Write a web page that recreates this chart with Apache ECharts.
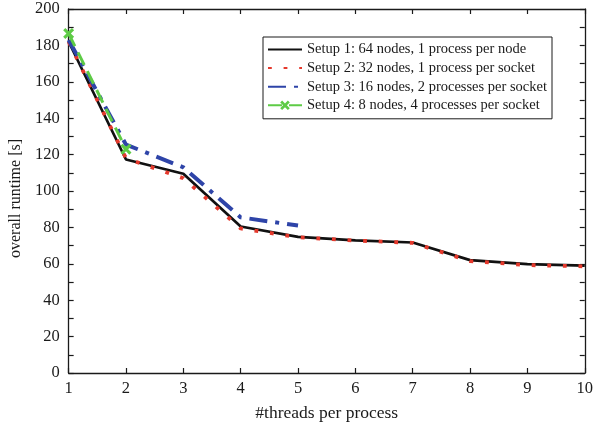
<!DOCTYPE html>
<html>
<head>
<meta charset="utf-8">
<script src="https://cdn.jsdelivr.net/npm/echarts@6/dist/echarts.min.js"></script>
<style>
  html, body { margin: 0; padding: 0; background: #fff; }
  #chart { width: 596px; height: 427px; }
</style>
</head>
<body>
<div id="chart"></div>
<script>
// Runtime per thread count for the four node/process configurations
const threads = [1, 2, 3, 4, 5, 6, 7, 8, 9, 10];
const setup1 = [182, 117.3, 109.5, 80.5, 74.8, 72.9, 71.7, 62, 59.8, 59];
const setup2 = [182, 118, 107, 79.4, 74.6, 72.8, 71.5, 61.5, 59.3, 58.6];
const setup3 = [183, 125.5, 113, 85.5, 81];
const setup4 = [186.5, 123];
const seriesNames = [
  'Setup 1: 64 nodes, 1 process per node',
  'Setup 2: 32 nodes, 1 process per socket',
  'Setup 3: 16 nodes, 2 processes per socket',
  'Setup 4: 8 nodes, 4 processes per socket'
];

const pairs = (vals) => vals.map((v, i) => [threads[i], v]);
const FONT = '"Liberation Serif", "DejaVu Serif", serif';
const INK = '#1a1a1a';
const crossSymbol = 'path://M0,2L2,0L5,3L8,0L10,2L7,5L10,8L8,10L5,7L2,10L0,8L3,5Z';

const frameAxis = (extra) => Object.assign({
  type: 'value',
  axisLine: { show: true, onZero: false, lineStyle: { color: INK, width: 1.3 } },
  axisTick: { show: true, inside: true, length: 5, lineStyle: { color: INK, width: 1.2 } },
  splitLine: { show: false },
  axisLabel: { show: false }
}, extra);

// legend entries: plain lines get no marker, setup 4 keeps its cross
const legendData = seriesNames.map((name, i) =>
  i < 3 ? { name, itemStyle: { opacity: 0 } } : { name });

const chart = echarts.init(document.getElementById('chart'), null, { renderer: 'canvas' });
chart.setOption({
  animation: false,
  backgroundColor: '#fff',
  textStyle: { fontFamily: FONT },
  grid: { left: 65, right: 9, top: 9, bottom: 53, containLabel: false },
  legend: {
    orient: 'vertical',
    left: 263,
    top: 37,
    padding: [5, 5, 6, 4],
    itemWidth: 34,
    itemHeight: 12,
    itemGap: 3.6,
    borderColor: INK,
    borderWidth: 1,
    borderRadius: 0,
    backgroundColor: '#fff',
    textStyle: { fontFamily: FONT, fontSize: 14.5, color: INK },
    data: legendData
  },
  xAxis: [
    frameAxis({
      min: 1, max: 10, interval: 1,
      name: '#threads per process',
      nameLocation: 'middle',
      nameGap: 31,
      nameTextStyle: { fontFamily: FONT, fontSize: 17.5, color: INK },
      axisLabel: { show: true, fontFamily: FONT, fontSize: 16.5, color: INK, margin: 7 }
    }),
    frameAxis({ min: 1, max: 10, interval: 1, position: 'top' })
  ],
  yAxis: [
    frameAxis({
      min: 0, max: 200, interval: 20,
      name: 'overall runtime [s]',
      nameLocation: 'middle',
      nameGap: 34,
      nameTextStyle: { fontFamily: FONT, fontSize: 16, color: INK, padding: [0, 15, 0, 0] },
      minorTick: { show: true, splitNumber: 2, length: 5, lineStyle: { color: INK, width: 1.2 } },
      axisLabel: { show: true, fontFamily: FONT, fontSize: 16.5, color: INK, margin: 9 }
    }),
    frameAxis({
      min: 0, max: 200, interval: 20, position: 'right',
      minorTick: { show: true, splitNumber: 2, length: 5, lineStyle: { color: INK, width: 1.2 } }
    })
  ],
  series: [
    {
      name: seriesNames[0], type: 'line', data: pairs(setup1),
      symbol: 'none', color: '#111',
      lineStyle: { color: '#111', width: 2.7 }
    },
    {
      name: seriesNames[1], type: 'line', data: pairs(setup2),
      symbol: 'none', color: '#e5392c',
      lineStyle: { color: '#e5392c', width: 3.8, type: [3.8, 11.8], cap: 'butt' }
    },
    {
      name: seriesNames[2], type: 'line', data: pairs(setup3),
      symbol: 'none', color: '#2e44a8',
      lineStyle: { color: '#2e44a8', width: 4, type: [18, 8, 4, 8], cap: 'butt' }
    },
    {
      name: seriesNames[3], type: 'line', data: pairs(setup4),
      symbol: crossSymbol, symbolSize: 11, showSymbol: true, color: '#5ecb46',
      itemStyle: { color: '#5ecb46' },
      lineStyle: { color: '#5ecb46', width: 3, type: [14, 7], cap: 'butt' }
    }
  ]
});
</script>
</body>
</html>
